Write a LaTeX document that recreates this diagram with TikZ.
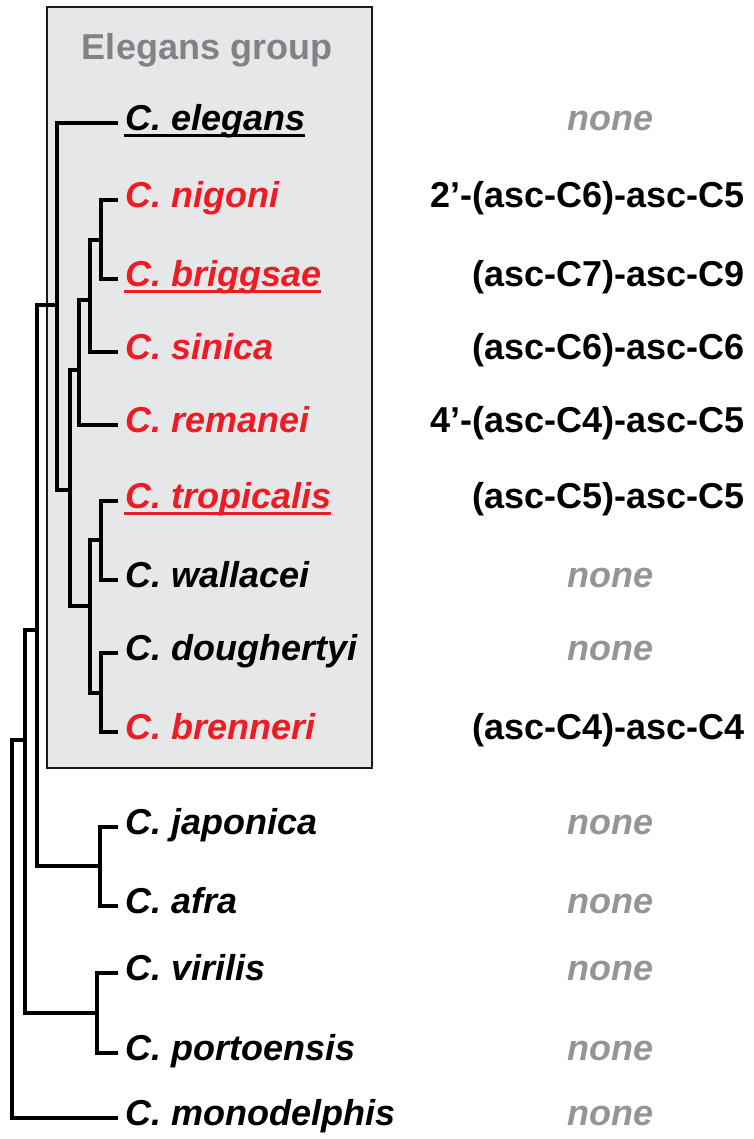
\documentclass[tikz,border=0pt]{standalone}
\usepackage{fontspec}
\setmainfont{Liberation Sans}
\definecolor{grpred}{HTML}{ED1C24}
\definecolor{nonegray}{HTML}{939598}
\definecolor{titlegray}{HTML}{808285}
\definecolor{boxfill}{HTML}{E6E7E8}
\tikzset{
  sp/.style={anchor=west, inner xsep=9pt, inner ysep=0pt, text height=26pt, text depth=11pt,
    font=\fontsize{36}{40}\selectfont\bfseries\itshape},
  spred/.style={sp, text=grpred},
  chem/.style={anchor=east, inner sep=0pt, text height=26pt, text depth=11pt,
    font=\fontsize{36}{40}\selectfont\bfseries},
  nonelbl/.style={inner sep=0pt, text height=26pt, text depth=11pt, text=nonegray,
    font=\fontsize{36}{40}\selectfont\bfseries\itshape},
  branch/.style={line width=3.4pt, line cap=rect, line join=miter},
  uline/.style={line width=2.8pt},
}
\begin{document}
\begin{tikzpicture}[x=1pt, y=-1pt]
  \useasboundingbox (0,0) rectangle (753,1139);
  % the elegans group box
  \filldraw[fill=boxfill, draw=black!90, line width=2.5pt] (47,7) rectangle (372,768);
  \node[inner sep=0pt, text height=26pt, text depth=11pt, text=titlegray,
    font=\fontsize{36}{40}\selectfont\bfseries] (grp) at (207,52) {Elegans group};
  % species
  \node[sp] (ele) at (116,123) {C. elegans};
  \node[spred] (nig) at (116,200) {C. nigoni};
  \node[spred] (bri) at (116,279) {C. briggsae};
  \node[spred] (sin) at (116,352) {C. sinica};
  \node[spred] (rem) at (116,425) {C. remanei};
  \node[spred] (tro) at (116,501) {C. tropicalis};
  \node[sp] (wal) at (116,580) {C. wallacei};
  \node[sp] (dou) at (116,653) {C. doughertyi};
  \node[spred] (bre) at (116,732) {C. brenneri};
  \node[sp] (jap) at (116,827) {C. japonica};
  \node[sp] (afr) at (116,906) {C. afra};
  \node[sp] (vir) at (116,973) {C. virilis};
  \node[sp] (por) at (116,1053) {C. portoensis};
  \node[sp] (mon) at (116,1118) {C. monodelphis};
  % inner nodes
  \coordinate (nb) at (101,240);
  \coordinate (nbs) at (90,300);
  \coordinate (nbsr) at (79,370);
  \coordinate (tw) at (101,540);
  \coordinate (db) at (101,693);
  \coordinate (twdb) at (90,606);
  \coordinate (core) at (70,490);
  \coordinate (egrp) at (57,305);
  \coordinate (ja) at (100,866);
  \coordinate (egja) at (37,630);
  \coordinate (vp) at (97,1013);
  \coordinate (egjavp) at (25,740);
  \coordinate (root) at (12,930);
  % branches
  \draw[branch] (nb) |- (nig.west); \draw[branch] (nb) |- (bri.west);
  \draw[branch] (nbs) |- (nb); \draw[branch] (nbs) |- (sin.west);
  \draw[branch] (nbsr) |- (nbs); \draw[branch] (nbsr) |- (rem.west);
  \draw[branch] (tw) |- (tro.west); \draw[branch] (tw) |- (wal.west);
  \draw[branch] (db) |- (dou.west); \draw[branch] (db) |- (bre.west);
  \draw[branch] (twdb) |- (tw); \draw[branch] (twdb) |- (db);
  \draw[branch] (core) |- (nbsr); \draw[branch] (core) |- (twdb);
  \draw[branch] (egrp) |- (ele.west); \draw[branch] (egrp) |- (core);
  \draw[branch] (ja) |- (jap.west); \draw[branch] (ja) |- (afr.west);
  \draw[branch] (egja) |- (egrp); \draw[branch] (egja) |- (ja);
  \draw[branch] (vp) |- (vir.west); \draw[branch] (vp) |- (por.west);
  \draw[branch] (egjavp) |- (egja); \draw[branch] (egjavp) |- (vp);
  \draw[branch] (root) |- (egjavp); \draw[branch] (root) |- (mon.west);
  % underlines
  \draw[uline] ([xshift=8pt, yshift=-5pt]ele.base west) -- ([xshift=-9pt, yshift=-5pt]ele.base east);
  \draw[uline, grpred] ([xshift=8pt, yshift=-5pt]bri.base west) -- ([xshift=-9pt, yshift=-5pt]bri.base east);
  \draw[uline, grpred] ([xshift=8pt, yshift=-5pt]tro.base west) -- ([xshift=-9pt, yshift=-5pt]tro.base east);
  % ascarosides
  \node[nonelbl] (aEle) at (610,123) {none};
  \node[chem] (aNig) at (745,200) {2’-(asc-C6)-asc-C5};
  \node[chem] (aBri) at (745,279) {(asc-C7)-asc-C9};
  \node[chem] (aSin) at (745,352) {(asc-C6)-asc-C6};
  \node[chem] (aRem) at (745,425) {4’-(asc-C4)-asc-C5};
  \node[chem] (aTro) at (745,501) {(asc-C5)-asc-C5};
  \node[nonelbl] (aWal) at (610,580) {none};
  \node[nonelbl] (aDou) at (610,653) {none};
  \node[chem] (aBre) at (745,732) {(asc-C4)-asc-C4};
  \node[nonelbl] (aJap) at (610,827) {none};
  \node[nonelbl] (aAfr) at (610,906) {none};
  \node[nonelbl] (aVir) at (610,973) {none};
  \node[nonelbl] (aPor) at (610,1053) {none};
  \node[nonelbl] (aMon) at (610,1118) {none};
\end{tikzpicture}
\end{document}
